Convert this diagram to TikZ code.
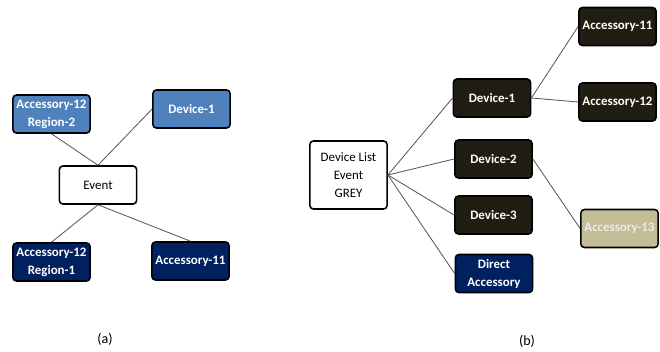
\documentclass[tikz,border=0pt]{standalone}
\usepackage{fontspec}
\setmainfont{Carlito}
\usepackage{tikz}
\usetikzlibrary{positioning}
\definecolor{lblue}{RGB}{79,129,189}
\definecolor{navy}{RGB}{0,32,96}
\definecolor{darkbox}{RGB}{32,29,18}
\definecolor{tan}{RGB}{196,189,151}
\tikzstyle{box} = [draw=black, line width=1.1pt, rounded corners=2.5pt, minimum width=1.93cm, minimum height=0.95cm, align=center, inner sep=2pt, font=\fontsize{9.2}{12.8}\selectfont]
\tikzstyle{filled} = [box, text=white, font=\fontsize{9.2}{12.8}\selectfont\bfseries]
\tikzstyle{link} = [draw=black!65, line width=0.6pt]

\begin{document}
\begin{tikzpicture}[x=0.025cm, y=-0.025cm]
\useasboundingbox (0,0) rectangle (660,352);

% (a) Event
\node[box, fill=white] (event) at (98,185) {Event};
\node[filled, fill=lblue] (reg2) at (51.5,114) {Accessory-12\\Region-2};
\node[filled, fill=lblue] (devA) at (191.5,109) {Device-1};
\node[filled, fill=navy] (reg1) at (51.5,262) {Accessory-12\\Region-1};
\node[filled, fill=navy] (accA) at (190.5,261) {Accessory-11};

\draw[link] (event.north) -- (reg2.south);
\draw[link] (event.north) -- (devA.west);
\draw[link] (event.south) -- (reg1.north);
\draw[link] (event.south) -- (accA.north);

\node (capA) at (105,339) {(a)};

% (b) Device list
\node[box, fill=white, minimum height=1.7cm] (list) at (348.5,175) {Device List\\Event\\GREY};
\node[filled, fill=darkbox] (dev1) at (492,98) {Device-1};
\node[filled, fill=darkbox] (dev2) at (493.5,159) {Device-2};
\node[filled, fill=darkbox] (dev3) at (493.5,215) {Device-3};
\node[filled, fill=navy] (direct) at (494,273.5) {Direct\\Accessory};
\node[filled, fill=darkbox] (acc11) at (617.5,26.5) {Accessory-11};
\node[filled, fill=darkbox] (acc12) at (617.5,102) {Accessory-12};
\node[filled, fill=tan, text=white!92!black] (acc13) at (619.5,228.5) {Accessory-13};

\draw[link] (list.east) -- (dev1.west);
\draw[link] (list.east) -- (dev2.west);
\draw[link] (list.east) -- (dev3.west);
\draw[link] (list.east) -- (direct.west);
\draw[link] (dev1.east) -- (acc11.west);
\draw[link] (dev1.east) -- (acc12.west);
\draw[link] (dev2.east) -- (acc13.west);

\node (capB) at (527,341) {(b)};
\end{tikzpicture}
\end{document}
